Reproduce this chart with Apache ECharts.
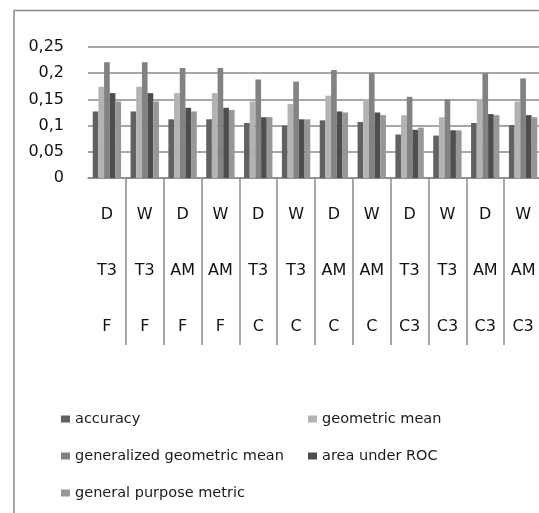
<!DOCTYPE html>
<html>
<head>
<meta charset="utf-8">
<script src="https://cdn.jsdelivr.net/npm/echarts@6/dist/echarts.min.js"></script>
<style>
  html, body { margin: 0; padding: 0; background: #fff; }
  #chart { width: 539px; height: 513px; }
</style>
</head>
<body>
<div id="chart"></div>
<script>
// Three-level category labels (scheme / model / dataset)
const schemeRow = ['D', 'W', 'D', 'W', 'D', 'W', 'D', 'W', 'D', 'W', 'D', 'W'];
const modelRow = ['T3', 'T3', 'AM', 'AM', 'T3', 'T3', 'AM', 'AM', 'T3', 'T3', 'AM', 'AM'];
const dataRow = ['F', 'F', 'F', 'F', 'C', 'C', 'C', 'C', 'C3', 'C3', 'C3', 'C3'];

// Metric values per configuration
const accuracy = [0.127, 0.127, 0.112, 0.112, 0.105, 0.100, 0.110, 0.107, 0.083, 0.081, 0.105, 0.101];
const geometricMean = [0.174, 0.174, 0.162, 0.162, 0.146, 0.141, 0.157, 0.150, 0.120, 0.116, 0.150, 0.146];
const generalizedGeometricMean = [0.221, 0.221, 0.210, 0.210, 0.188, 0.184, 0.206, 0.200, 0.155, 0.150, 0.200, 0.190];
const areaUnderROC = [0.162, 0.162, 0.134, 0.134, 0.116, 0.112, 0.127, 0.125, 0.092, 0.091, 0.122, 0.120];
const generalPurposeMetric = [0.146, 0.146, 0.127, 0.130, 0.116, 0.112, 0.125, 0.120, 0.096, 0.091, 0.120, 0.116];

const seriesNames = ['accuracy', 'geometric mean', 'generalized geometric mean', 'area under ROC', 'general purpose metric'];
const seriesValues = [accuracy, geometricMean, generalizedGeometricMean, areaUnderROC, generalPurposeMetric];
const seriesColors = ['#616161', '#b3b3b3', '#828282', '#4e4e4e', '#979797'];

const yTicks = { min: 0, max: 0.25, interval: 0.05 };

const categories = schemeRow.map((s, i) => s + '\n' + modelRow[i] + '\n' + dataRow[i]);

const lineGray = '#8a8a8a';
const font = 'DejaVu Sans';

const chart = echarts.init(document.getElementById('chart'), null, { renderer: 'canvas' });

const legendText = { fontFamily: font, fontSize: 14.5, color: '#1a1a1a', lineHeight: 16 };

chart.setOption({
  animation: false,
  backgroundColor: '#ffffff',
  graphic: [{
    type: 'rect',
    shape: { x: 14, y: 10.5, width: 700, height: 700 },
    style: { fill: 'none', stroke: lineGray, lineWidth: 1.5 },
    silent: true
  }],
  // plot runs past the right edge so only the inner separators show
  grid: {
    left: 88, top: 47, right: -3, bottom: 335,
    containLabel: false,
    outerBoundsMode: 'none'
  },
  legend: [{
    orient: 'vertical',
    left: 56, top: 406,
    itemWidth: 9, itemHeight: 7, itemGap: 21,
    icon: 'rect',
    textStyle: legendText,
    data: [seriesNames[0], seriesNames[2], seriesNames[4]]
  }, {
    orient: 'vertical',
    left: 303, top: 406,
    itemWidth: 9, itemHeight: 7, itemGap: 21,
    icon: 'rect',
    textStyle: legendText,
    data: [seriesNames[1], seriesNames[3]]
  }],
  xAxis: {
    type: 'category',
    data: categories,
    boundaryGap: true,
    axisLine: { show: true, lineStyle: { color: lineGray, width: 1.5 } },
    axisTick: {
      show: true,
      length: 167,
      interval: (index) => index > 0,
      lineStyle: { color: lineGray, width: 1.5 }
    },
    axisLabel: {
      interval: 0,
      margin: 9,
      fontFamily: font,
      fontSize: 16,
      color: '#111',
      lineHeight: 56
    }
  },
  yAxis: {
    type: 'value',
    min: yTicks.min,
    max: yTicks.max,
    interval: yTicks.interval,
    axisLine: { show: false },
    axisTick: { show: false },
    splitLine: { show: true, lineStyle: { color: lineGray, width: 1.5 } },
    axisLabel: {
      margin: 24,
      fontFamily: font,
      fontSize: 16,
      color: '#111',
      formatter: (v) => String(parseFloat(v.toFixed(2))).replace('.', ',')
    }
  },
  series: seriesNames.map((name, k) => ({
    name: name,
    type: 'bar',
    data: seriesValues[k],
    barGap: '0%',
    barCategoryGap: '25%',
    itemStyle: { color: seriesColors[k] }
  }))
});
</script>
</body>
</html>
